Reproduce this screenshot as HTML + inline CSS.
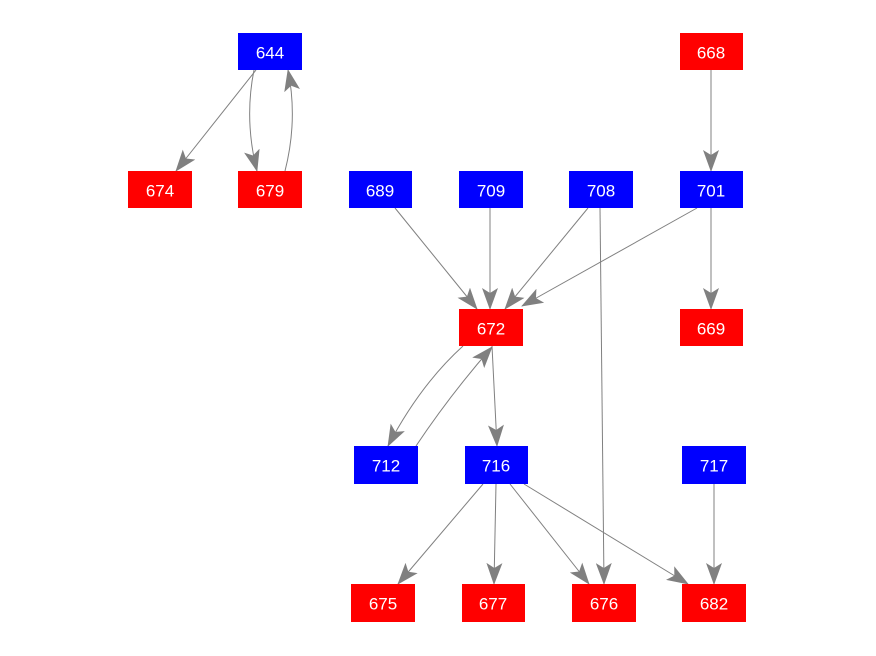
<!DOCTYPE html>
<html><head><meta charset="utf-8"><style>
html,body{margin:0;padding:0;background:#fff;}
svg{display:block;}
text{font-family:"Liberation Sans",sans-serif;font-size:17px;fill:#fff;text-anchor:middle;dominant-baseline:central;}
</style></head><body>
<svg width="876" height="656" viewBox="0 0 876 656">
<defs>
<marker id="a" markerWidth="22" markerHeight="16" refX="21" refY="8" orient="auto" markerUnits="userSpaceOnUse">
<path d="M0,0 L22,8 L0,16 L5,8 Z" fill="#808080"/>
</marker>
</defs>
<g stroke="#808080" stroke-width="1" fill="none" marker-end="url(#a)">
<path d="M256,70 L176,171"/>
<path d="M254,70 Q244,120 257,171"/>
<path d="M285,171 Q298,120 288,70"/>
<path d="M711,70 L711,171"/>
<path d="M395,208 L477,309"/>
<path d="M490,208 L490,309"/>
<path d="M588,208 L505,309"/>
<path d="M697,208 L522,306"/>
<path d="M600,208 L604,584"/>
<path d="M711,208 L711,309"/>
<path d="M463,346 Q420,385 388,446"/>
<path d="M416,446 Q450,395 492,347"/>
<path d="M492,346 L497,446"/>
<path d="M483,484 L398,584"/>
<path d="M496,484 L494,584"/>
<path d="M510,484 L589,584"/>
<path d="M524,484 L688,584"/>
<path d="M714,484 L714,584"/>
</g>
<g>
<rect x="238" y="33" width="64" height="37" fill="#0000ff"/><text x="270" y="53">644</text>
<rect x="680" y="33" width="63" height="37" fill="#ff0000"/><text x="711" y="53">668</text>
<rect x="128" y="171" width="64" height="37" fill="#ff0000"/><text x="160" y="191">674</text>
<rect x="238" y="171" width="64" height="37" fill="#ff0000"/><text x="270" y="191">679</text>
<rect x="349" y="171" width="63" height="37" fill="#0000ff"/><text x="380" y="191">689</text>
<rect x="459" y="171" width="64" height="37" fill="#0000ff"/><text x="491" y="191">709</text>
<rect x="569" y="171" width="64" height="37" fill="#0000ff"/><text x="601" y="191">708</text>
<rect x="680" y="171" width="63" height="37" fill="#0000ff"/><text x="711" y="191">701</text>
<rect x="459" y="309" width="64" height="37" fill="#ff0000"/><text x="491" y="329">672</text>
<rect x="680" y="309" width="63" height="37" fill="#ff0000"/><text x="711" y="329">669</text>
<rect x="354" y="446" width="64" height="38" fill="#0000ff"/><text x="386" y="466">712</text>
<rect x="465" y="446" width="63" height="38" fill="#0000ff"/><text x="496" y="466">716</text>
<rect x="682" y="446" width="64" height="38" fill="#0000ff"/><text x="714" y="466">717</text>
<rect x="351" y="584" width="64" height="38" fill="#ff0000"/><text x="383" y="604">675</text>
<rect x="462" y="584" width="63" height="38" fill="#ff0000"/><text x="493" y="604">677</text>
<rect x="572" y="584" width="64" height="38" fill="#ff0000"/><text x="604" y="604">676</text>
<rect x="682" y="584" width="64" height="38" fill="#ff0000"/><text x="714" y="604">682</text>
</g>
</svg>
</body></html>
